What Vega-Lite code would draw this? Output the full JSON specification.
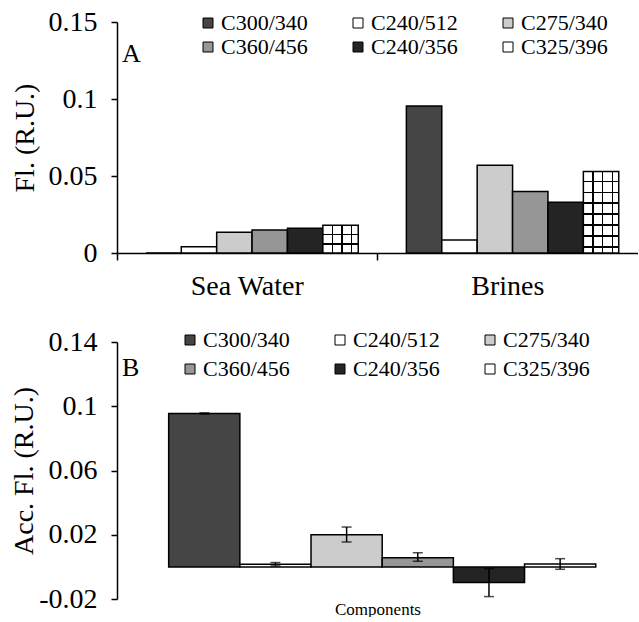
{
  "$schema": "https://vega.github.io/schema/vega-lite/v6.json",
  "padding": {"left": 10, "top": 8, "right": 0, "bottom": 0},
  "background": "white",
  "config": {
    "font": "Liberation Serif, serif",
    "view": {"stroke": null},
    "axis": {"labelFont": "Liberation Serif, serif", "titleFont": "Liberation Serif, serif", "labelColor": "black", "titleColor": "black", "domainColor": "black", "tickColor": "black", "domainWidth": 1.5, "tickWidth": 1.5, "labelFontSize": 28, "titleFontSize": 28, "titleFontWeight": "normal", "grid": false},
    "legend": {"labelFont": "Liberation Serif, serif", "labelFontSize": 22, "labelColor": "black", "symbolType": "square", "symbolSize": 100, "symbolStrokeColor": "black", "symbolStrokeWidth": 1, "labelOffset": 2, "columnPadding": 39},
    "title": {"font": "Liberation Serif, serif", "fontWeight": "normal", "fontSize": 26, "color": "black"}
  },
  "datasets": {
    "a": [
      {"site": "Sea Water", "series": "C300/340", "value": 0},
      {"site": "Sea Water", "series": "C240/512", "value": 0.004},
      {"site": "Sea Water", "series": "C275/340", "value": 0.0135},
      {"site": "Sea Water", "series": "C360/456", "value": 0.015},
      {"site": "Sea Water", "series": "C240/356", "value": 0.016},
      {"site": "Sea Water", "series": "C325/396", "value": 0.018},
      {"site": "Brines", "series": "C300/340", "value": 0.0955},
      {"site": "Brines", "series": "C240/512", "value": 0.0085},
      {"site": "Brines", "series": "C275/340", "value": 0.057},
      {"site": "Brines", "series": "C360/456", "value": 0.040},
      {"site": "Brines", "series": "C240/356", "value": 0.033},
      {"site": "Brines", "series": "C325/396", "value": 0.053}
    ],
    "b": [
      {"group": "Components", "series": "C300/340", "value": 0.0955, "lo": 0.0951, "hi": 0.0959},
      {"group": "Components", "series": "C240/512", "value": 0.0017, "lo": 0.0006, "hi": 0.0027},
      {"group": "Components", "series": "C275/340", "value": 0.020, "lo": 0.0155, "hi": 0.0248},
      {"group": "Components", "series": "C360/456", "value": 0.0057, "lo": 0.0035, "hi": 0.0088},
      {"group": "Components", "series": "C240/356", "value": -0.0098, "lo": -0.0185, "hi": -0.0011},
      {"group": "Components", "series": "C325/396", "value": 0.0018, "lo": -0.0015, "hi": 0.0051}
    ]
  },
  "spacing": 28,
  "resolve": {"legend": {"color": "independent"}, "scale": {"xOffset": "independent", "x": "independent"}},
  "vconcat": [
    {
      "width": 521,
      "height": 231,
      "title": {"text": "A", "anchor": "start", "frame": "group", "orient": "top", "offset": -59, "dx": 5},
      "data": {"name": "a"},
      "encoding": {
        "x": {"field": "site", "type": "nominal", "sort": ["Sea Water", "Brines"], "scale": {"paddingInner": 0, "paddingOuter": 0},
          "axis": {"title": null, "bandPosition": 0, "tickSize": 7, "labelPadding": 12, "labelAngle": 0}},
        "xOffset": {"field": "series", "type": "nominal", "sort": ["C300/340", "C240/512", "C275/340", "C360/456", "C240/356", "C325/396"], "scale": {"paddingInner": 0, "paddingOuter": 0.68, "align": 0.6}},
        "y": {"field": "value", "type": "quantitative", "scale": {"domain": [0, 0.15], "nice": false},
          "axis": {"title": "Fl. (R.U.)", "values": [0, 0.05, 0.1, 0.15], "labelExpr": "'' + datum.value", "tickSize": 6, "labelPadding": 14, "titlePadding": 9}}
      },
      "layer": [
        {
          "mark": {"type": "bar", "stroke": "black", "strokeWidth": 1.5},
          "encoding": {
            "color": {"field": "series", "type": "nominal", "sort": ["C300/340", "C240/512", "C275/340", "C360/456", "C240/356", "C325/396"],
              "scale": {"domain": ["C300/340", "C240/512", "C275/340", "C360/456", "C240/356", "C325/396"], "range": ["#454545", "#ffffff", "#cccccc", "#969696", "#242424", "#ffffff"]},
              "legend": {"title": null, "orient": "none", "direction": "horizontal", "columns": 3, "legendX": 80, "legendY": -10, "rowPadding": 2}}
          }
        },
        {
          "transform": [{"filter": "datum.series === 'C325/396'"}],
          "mark": {"type": "bar", "strokeWidth": 0, "fill": {"gradient": "linear", "x1": 0, "y1": 0, "x2": 1, "y2": 0, "stops": [
            {"offset": 0, "color": "rgba(0,0,0,0)"},
            {"offset": 0.255, "color": "rgba(0,0,0,0)"}, {"offset": 0.255, "color": "black"}, {"offset": 0.29, "color": "black"}, {"offset": 0.29, "color": "rgba(0,0,0,0)"},
            {"offset": 0.525, "color": "rgba(0,0,0,0)"}, {"offset": 0.525, "color": "black"}, {"offset": 0.56, "color": "black"}, {"offset": 0.56, "color": "rgba(0,0,0,0)"},
            {"offset": 0.80, "color": "rgba(0,0,0,0)"}, {"offset": 0.80, "color": "black"}, {"offset": 0.835, "color": "black"}, {"offset": 0.835, "color": "rgba(0,0,0,0)"},
            {"offset": 1, "color": "rgba(0,0,0,0)"}]}},
          "encoding": {}
        },
        {
          "transform": [{"filter": "datum.series === 'C325/396' && datum.site === 'Sea Water'"}],
          "mark": {"type": "bar", "strokeWidth": 0, "fill": {"gradient": "linear", "x1": 0, "y1": 0, "x2": 0, "y2": 1, "stops": [
            {"offset": 0, "color": "rgba(0,0,0,0)"},
            {"offset": 0.31, "color": "rgba(0,0,0,0)"}, {"offset": 0.31, "color": "black"}, {"offset": 0.355, "color": "black"}, {"offset": 0.355, "color": "rgba(0,0,0,0)"},
            {"offset": 0.65, "color": "rgba(0,0,0,0)"}, {"offset": 0.65, "color": "black"}, {"offset": 0.695, "color": "black"}, {"offset": 0.695, "color": "rgba(0,0,0,0)"},
            {"offset": 1, "color": "rgba(0,0,0,0)"}]}},
          "encoding": {}
        },
        {
          "transform": [{"filter": "datum.series === 'C325/396' && datum.site === 'Brines'"}],
          "mark": {"type": "bar", "strokeWidth": 0, "fill": {"gradient": "linear", "x1": 0, "y1": 0, "x2": 0, "y2": 1, "stops": [
            {"offset": 0, "color": "rgba(0,0,0,0)"},
            {"offset": 0.115, "color": "rgba(0,0,0,0)"}, {"offset": 0.115, "color": "black"}, {"offset": 0.13, "color": "black"}, {"offset": 0.13, "color": "rgba(0,0,0,0)"},
            {"offset": 0.25, "color": "rgba(0,0,0,0)"}, {"offset": 0.25, "color": "black"}, {"offset": 0.265, "color": "black"}, {"offset": 0.265, "color": "rgba(0,0,0,0)"},
            {"offset": 0.38, "color": "rgba(0,0,0,0)"}, {"offset": 0.38, "color": "black"}, {"offset": 0.395, "color": "black"}, {"offset": 0.395, "color": "rgba(0,0,0,0)"},
            {"offset": 0.515, "color": "rgba(0,0,0,0)"}, {"offset": 0.515, "color": "black"}, {"offset": 0.53, "color": "black"}, {"offset": 0.53, "color": "rgba(0,0,0,0)"},
            {"offset": 0.65, "color": "rgba(0,0,0,0)"}, {"offset": 0.65, "color": "black"}, {"offset": 0.665, "color": "black"}, {"offset": 0.665, "color": "rgba(0,0,0,0)"},
            {"offset": 0.785, "color": "rgba(0,0,0,0)"}, {"offset": 0.785, "color": "black"}, {"offset": 0.80, "color": "black"}, {"offset": 0.80, "color": "rgba(0,0,0,0)"},
            {"offset": 0.92, "color": "rgba(0,0,0,0)"}, {"offset": 0.92, "color": "black"}, {"offset": 0.935, "color": "black"}, {"offset": 0.935, "color": "rgba(0,0,0,0)"},
            {"offset": 1, "color": "rgba(0,0,0,0)"}]}},
          "encoding": {}
        }
      ]
    },
    {
      "width": 521,
      "height": 257,
      "title": {"text": "B", "anchor": "start", "frame": "group", "orient": "top", "offset": -53, "dx": 5},
      "data": {"name": "b"},
      "encoding": {
        "x": {"field": "group", "type": "nominal", "scale": {"paddingInner": 0, "paddingOuter": 0},
          "axis": {"labels": false, "domain": false, "ticks": false, "title": "Components", "titleFontSize": 17, "titlePadding": 2}},
        "xOffset": {"field": "series", "type": "nominal", "sort": ["C300/340", "C240/512", "C275/340", "C360/456", "C240/356", "C325/396"], "scale": {"paddingInner": 0, "paddingOuter": 0.66, "align": 0.55}}
      },
      "layer": [
        {
          "mark": {"type": "bar", "stroke": "black", "strokeWidth": 1.5},
          "encoding": {
            "y": {"field": "value", "type": "quantitative", "scale": {"domain": [-0.02, 0.14], "nice": false},
              "axis": {"title": "Acc. Fl. (R.U.)", "values": [-0.02, 0.02, 0.06, 0.1, 0.14], "labelExpr": "'' + datum.value", "tickSize": 6, "labelPadding": 14, "titlePadding": 0}},
            "color": {"field": "series", "type": "nominal", "sort": ["C300/340", "C240/512", "C275/340", "C360/456", "C240/356", "C325/396"],
              "legend": {"title": null, "orient": "none", "direction": "horizontal", "columns": 3, "legendX": 62, "legendY": -13, "rowPadding": 7}}
          }
        },
        {
          "mark": {"type": "rule", "color": "black", "strokeWidth": 1.5},
          "encoding": {"y": {"datum": 0}}
        },
        {
          "mark": {"type": "rule", "color": "black", "strokeWidth": 1.5},
          "encoding": {"y": {"field": "lo", "type": "quantitative"}, "y2": {"field": "hi"}}
        },
        {
          "mark": {"type": "tick", "color": "black", "thickness": 1.5, "size": 10, "orient": "horizontal"},
          "encoding": {"y": {"field": "lo", "type": "quantitative"}}
        },
        {
          "mark": {"type": "tick", "color": "black", "thickness": 1.5, "size": 10, "orient": "horizontal"},
          "encoding": {"y": {"field": "hi", "type": "quantitative"}}
        }
      ]
    }
  ]
}
